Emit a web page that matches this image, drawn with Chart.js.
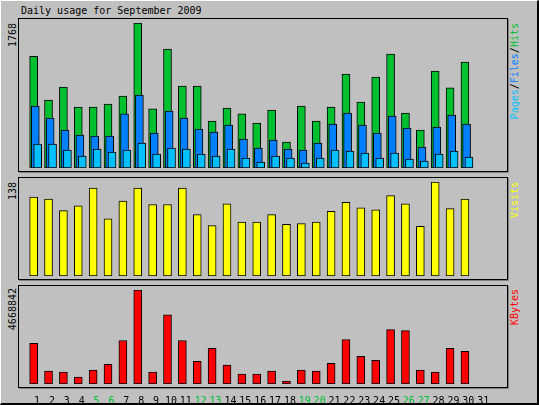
<!DOCTYPE html>
<html>
<head>
<meta charset="utf-8">
<script src="https://cdn.jsdelivr.net/npm/chart.js@4"></script>
<style>
  body { margin: 0; background: #c0c0c0; overflow: hidden; }
  #wrap { position: relative; width: 539px; height: 405px; background: #c0c0c0; box-sizing: border-box; overflow: hidden;
          border-left: 1px solid #fff; border-top: 1px solid #fff; border-right: 2px solid #000; border-bottom: 2px solid #000;
          font-family: "DejaVu Sans Mono", monospace; font-size: 10px; }
  .panel { position: absolute; left: 17px; width: 491px; }
  .vt { position: absolute; writing-mode: vertical-rl; transform: rotate(180deg); white-space: nowrap; line-height: 10px; }
  #title { position: absolute; left: 20px; top: 4px; font-size: 10px; }
</style>
</head>
<body>
<div id="wrap">
  <div id="title">Daily usage for September 2009</div>
  <div class="vt" style="left:7px; top:22px;">1768</div>
  <div class="vt" style="left:7px; top:181px;">138</div>
  <div class="vt" style="left:7px; top:287px;">4668842</div>
  <div class="vt" style="left:509px; top:22px;"><span style="color:#00c0ff">Pages</span>/<span style="color:#0080ff">Files</span>/<span style="color:#00c030">Hits</span></div>
  <div class="vt" style="left:509px; top:181px; color:#ffff00">Visits</div>
  <div class="vt" style="left:509px; top:288px; color:#ff0000">KBytes</div>
  <div class="panel" style="top:17px; height:156px;"><canvas id="c1"></canvas></div>
  <div class="panel" style="top:176px; height:105px;"><canvas id="c2"></canvas></div>
  <div class="panel" style="top:284px; height:129px;"><canvas id="c3"></canvas></div>
</div>
<script>
// datos
const days = [1,2,3,4,5,6,7,8,9,10,11,12,13,14,15,16,17,18,19,20,21,22,23,24,25,26,27,28,29,30];
const allDays = days.concat([31]);
const weekend = [5,6,12,13,19,20,26,27];
const hits = [1362,829,988,744,744,780,878,1768,720,1451,1000,1000,573,732,659,549,707,317,756,573,744,1146,805,1110,1390,671,463,1183,976,1293];
const files = [756,610,463,402,390,390,659,890,427,695,610,476,439,524,354,244,341,232,220,305,537,671,524,427,634,488,256,500,646,537];
const pages = [293,293,220,146,232,195,220,305,171,244,232,171,146,232,122,73,146,122,61,122,220,207,183,122,183,110,85,171,207,134];
const visits = [116,113,96,103,129,84,110,129,105,105,129,90,74,106,79,79,90,76,77,79,95,108,100,97,118,106,73,138,99,113];
const kbytes = [2015000,639000,590000,344000,688000,983000,2162000,4668842,590000,3440000,2162000,1130000,1769000,934000,491000,491000,639000,147000,688000,639000,1032000,2212000,1376000,1180000,2703000,2654000,688000,590000,1769000,1622000];
const maxHits = 1768, maxVisits = 138, maxKB = 4668842;

Chart.defaults.font.family = "DejaVu Sans Mono";
Chart.defaults.font.size = 10;
Chart.defaults.animation = false;

// marco del panel
const frame = {
  id: "frame",
  afterDraw(chart) {
    const { ctx, chartArea } = chart;
    const w = chart.width, h = chartArea.bottom + 5;
    ctx.save();
    ctx.strokeStyle = "#000";
    ctx.lineWidth = 1;
    ctx.strokeRect(0.5, 0.5, w - 2, h - 2);
    ctx.strokeStyle = "#808080";
    ctx.beginPath();
    ctx.moveTo(1, h - 0.5); ctx.lineTo(w - 0.5, h - 0.5); ctx.lineTo(w - 0.5, 1);
    ctx.stroke();
    ctx.restore();
  }
};

let pts = (arr, off) => arr.map((v, i) => ({ x: days[i] + off, y: v }));
let ds = (label, arr, off, color, order) => ({
  label, data: pts(arr, off), backgroundColor: color, borderColor: "#000",
  borderWidth: 1, borderSkipped: false, barThickness: 8, grouped: false, order
});

let xScale = (show) => ({
  type: "linear", min: 0.25, max: 32.2, display: show,
  grid: { display: false }, border: { display: false },
  afterBuildTicks: (s) => { s.ticks = allDays.map((d) => ({ value: d })); },
  ticks: {
    padding: 3, maxRotation: 0, autoSkip: false,
    color: (c) => (weekend.includes(c.tick.value) ? "#00c030" : "#000"),
    callback: (v) => v
  }
});

let makeChart = (id, datasets, max, showX, bottomPad) => new Chart(document.getElementById(id), {
  type: "bar",
  data: { datasets },
  options: {
    responsive: true, maintainAspectRatio: false,
    layout: { padding: { top: 5, bottom: bottomPad, left: 0, right: 0 } },
    plugins: { legend: { display: false }, tooltip: { enabled: false } },
    scales: { x: xScale(showX), y: { min: 0, max, display: false } }
  },
  plugins: [frame]
});

makeChart("c1", [
  ds("Hits", hits, -0.23, "#00c030", 2),
  ds("Files", files, -0.12, "#0080ff", 1),
  ds("Pages", pages, 0.04, "#00c0ff", 0)
], maxHits, false, 6);
makeChart("c2", [ds("Visits", visits, -0.23, "#ffff00", 0)], maxVisits, false, 6);
makeChart("c3", [ds("KBytes", kbytes, -0.23, "#ff0000", 0)], maxKB, true, 4);
</script>
</body>
</html>
